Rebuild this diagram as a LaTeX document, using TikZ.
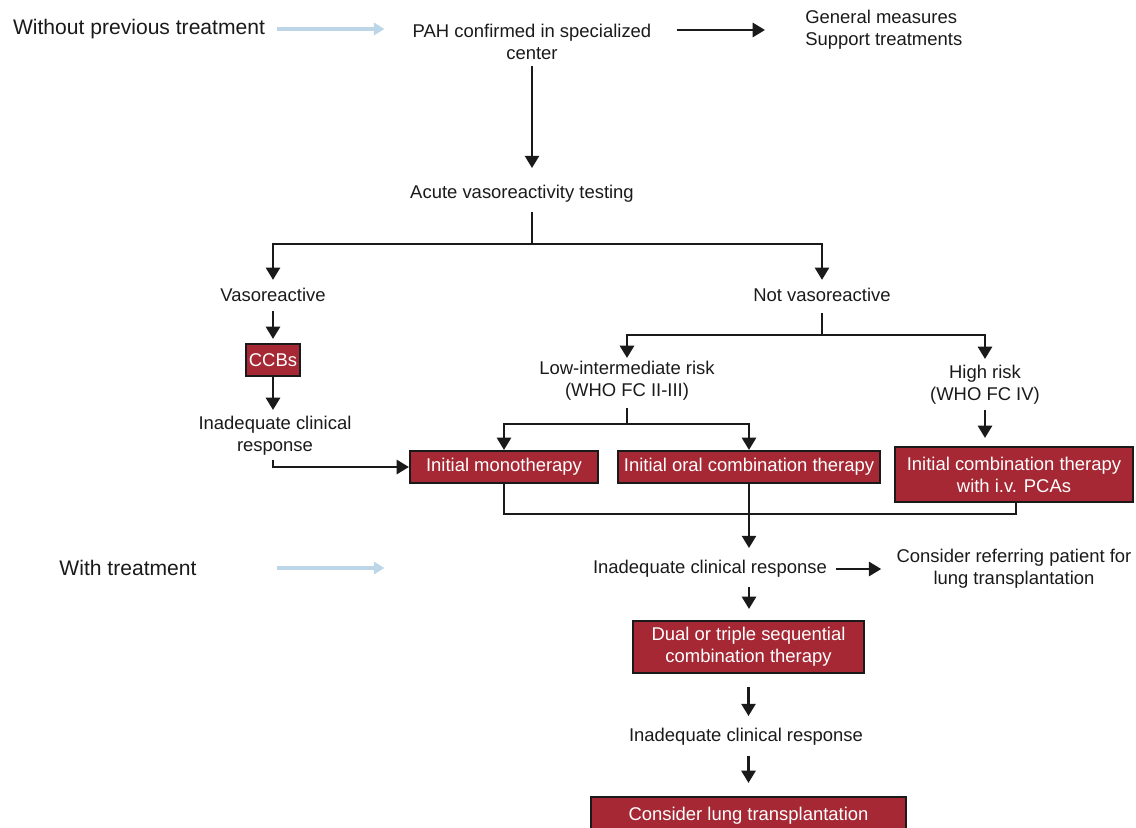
\documentclass[tikz,border=0pt]{standalone}
\usepackage{fontspec}
\setmainfont{Liberation Sans}
\usetikzlibrary{arrows.meta,calc}
\definecolor{ink}{HTML}{1A1A1A}
\definecolor{boxred}{HTML}{A52834}
\definecolor{pale}{HTML}{BCD6E8}

\begin{document}
\begin{tikzpicture}[
  x=0.02cm, y=-0.02cm,
  font=\fontsize{10.5}{12.6}\selectfont,
  >={Triangle[length=7pt,width=8pt]},
  link/.style={draw=ink,line width=1.5pt},
  arrow/.style={->,draw=ink,line width=1.5pt},
  palearrow/.style={-{Triangle[length=6pt,width=7pt]},draw=pale,line width=2pt},
  txt/.style={inner sep=0pt,align=center,text=ink},
  sidenote/.style={inner sep=0pt,text=ink,font=\fontsize{12}{14.4}\selectfont},
  redbox/.style={draw=ink,fill=boxred,line width=1.2pt,inner sep=0pt,
                 align=center,text=white}
]
\useasboundingbox (0,0) rectangle (1136,828);

% Side notes
\node[sidenote] (without) at (139,29) {Without previous treatment};
\node[sidenote] (withtr) at (128,568) {With treatment};

% Top
\node[txt] (pah) at (532,42) {PAH confirmed in specialized\\center};
\node[txt,align=left,anchor=west] (general) at (805,30)
  {General measures\\Support treatments};
\node[txt] (acute) at (522,194) {Acute vasoreactivity testing};

% Vasoreactivity branches
\node[txt] (vaso) at (273,295) {Vasoreactive};
\node[txt] (notvaso) at (822,295) {Not vasoreactive};
\node[redbox,minimum width=1.08cm,minimum height=0.64cm] (ccbs) at (273,360) {CCBs};
\node[txt] (inad1) at (275,436) {Inadequate clinical\\response};

% Risk groups
\node[txt] (lowint) at (627,381) {Low-intermediate risk\\(WHO FC II-III)};
\node[txt] (high) at (985,385) {High risk\\(WHO FC IV)};

% Initial therapy
\node[redbox,minimum width=3.76cm,minimum height=0.64cm] (mono) at (504,467)
  {Initial monotherapy};
\node[redbox,minimum width=5.24cm,minimum height=0.64cm] (oral) at (749,467)
  {Initial oral combination therapy};
\node[redbox,minimum width=4.76cm,minimum height=1.1cm] (comb) at (1014,474.5)
  {Initial combination therapy\\with i.v. PCAs};

% Follow-up
\node[txt] (inad2) at (710,569) {Inadequate clinical response};
\node[txt] (refer) at (1014,569) {Consider referring patient for\\lung transplantation};
\node[redbox,minimum width=4.62cm,minimum height=1.04cm] (dual) at (748.5,647)
  {Dual or triple sequential\\combination therapy};
\node[txt] (inad3) at (746,737) {Inadequate clinical response};
\node[redbox,minimum width=6.3cm,minimum height=0.76cm] (lungtx) at (748.5,816)
  {Consider lung transplantation};

% Split points
\coordinate (bus1) at (532,244);
\coordinate (bus2) at (822,335);
\coordinate (bus3) at (627,424);
\coordinate (bus4) at (749,514);

% Pale arrows
\draw[palearrow,shorten <=0.23cm,shorten >=0.56cm] (without.east) -- (without.east -| pah.west);
\draw[palearrow,shorten <=1.6cm,shorten >=0.56cm] (withtr.east) -- (withtr.east -| pah.west);

% Connectors
\draw[arrow,shorten <=0.5cm,shorten >=0.8cm] (pah.east |- general.west) -- (general.west);
\draw[arrow,shorten <=0.12cm,shorten >=0.34cm] (pah.south) -- (pah.south |- acute.north);
\draw[link,shorten <=0.18cm] (pah.south |- acute.south) -- (bus1);
\draw[arrow,shorten >=0.16cm] (bus1) -| (vaso.north);
\draw[arrow,shorten >=0.16cm] (bus1) -| (notvaso.north);
\draw[arrow,shorten <=0.18cm,shorten >=0.08cm] (vaso.south) -- (ccbs.north);
\draw[arrow,shorten >=0.12cm] (ccbs.south) -- (ccbs.south |- inad1.north);
\draw[arrow,shorten <=0.08cm] (inad1.south -| ccbs.south) |- (mono.west);
\draw[link,shorten <=0.22cm] (notvaso.south) -- (bus2);
\draw[arrow,shorten >=0.06cm] (bus2) -| (lowint.north);
\draw[arrow,shorten >=0.12cm] (bus2) -| (high.north);
\draw[link,shorten <=0.14cm] (lowint.south) -- (bus3);
\draw[arrow] (bus3) -| (mono.north);
\draw[arrow] (bus3) -| (oral.north);
\draw[arrow,shorten <=0.1cm,shorten >=0.16cm] (high.south) -- (high.south |- comb.north);
\draw[link] (mono.south) |- (bus4) -| ([xshift=0.04cm]comb.south);
\draw[arrow,shorten >=0.24cm] (oral.south) -- (oral.south |- inad2.north);
\draw[arrow,shorten <=0.18cm,shorten >=0.3cm] (inad2.east) -- (refer.west |- inad2.east);
\draw[arrow,shorten <=0.18cm,shorten >=0.22cm] (oral.south |- inad2.south) -- (oral.south |- dual.north);
\draw[arrow,shorten <=0.26cm,shorten >=0.24cm] (dual.south) -- (dual.south |- inad3.north);
\draw[arrow,shorten <=0.2cm,shorten >=0.26cm] (dual.south |- inad3.south) -- (lungtx.north);

\end{tikzpicture}
\end{document}
